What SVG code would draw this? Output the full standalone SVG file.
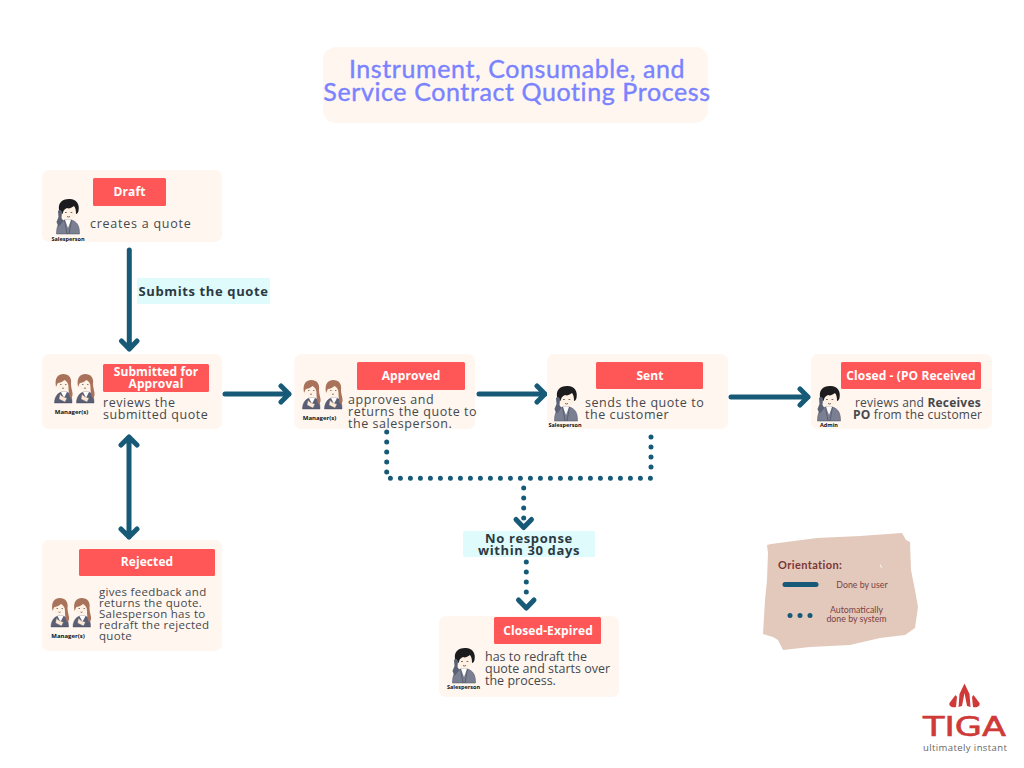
<svg xmlns="http://www.w3.org/2000/svg" xmlns:xlink="http://www.w3.org/1999/xlink" width="1024" height="768" viewBox="0 0 1024 768">
<style>
.card{fill:#fff6f0}
.red{fill:#ff5757}
.st{font:700 12px "Open Sans",sans-serif;fill:#fff;text-anchor:middle;letter-spacing:.1px}
.tx{font:400 12.5px "Open Sans",sans-serif;fill:#45494d;letter-spacing:.75px}
.t55{letter-spacing:.55px}
.t0{letter-spacing:0}
.t2{font-size:12px;letter-spacing:.2px}
.t3{font-size:11.5px;letter-spacing:.3px}
.who{font:700 5.5px "Open Sans",sans-serif;fill:#111;text-anchor:middle}
.lab{fill:#e0fbfc}
.lt{font:700 13px "Open Sans",sans-serif;fill:#2b3a42;text-anchor:middle;letter-spacing:.62px}
.title{font:400 25px "Lato",sans-serif;fill:#7a83ff;stroke:#7a83ff;stroke-width:.4;text-anchor:middle;letter-spacing:.6px}
.ln{fill:none;stroke:#175a78;stroke-width:5;stroke-linecap:round;stroke-linejoin:round}
.dt{fill:none;stroke:#175a78;stroke-width:5;stroke-linecap:round;stroke-dasharray:0 10}
.ori{font:400 8.8px "Lato",sans-serif;fill:#7d3f3f;text-anchor:middle}
</style>
<defs>
<g id="sales">
<path d="M-11.500 35c0-8 2-12 8-14h7c6 2 8 6 8 14z" fill="#7b7f92" stroke="#4d5060" stroke-width=".5"/>
<path d="M-3 21 0 29 3 21z" fill="#fff"/>
<path d="M-3.500 21-1 35M3.500 21 1 35" stroke="#4d5060" stroke-width=".7" fill="none"/>
<ellipse cx="0.500" cy="11" rx="8.500" ry="9.500" fill="#fff1e4"/>
<path d="M-8.500 13C-11 4-6 0 1 0c7-.5 11 5 9.500 12-.5 2-1.500 3-2.500 3 0-4-.5-6-2-8-3 2-5 3-7 2-2 1-3 2-3.500 3-.5 1-.5 2-1 3-.8-.5-2-1-2.500-2z" fill="#1c1c1e"/>
<path d="M-10 12a2.500 3.500 0 0 1 4 1l-.5 6 2 3-5 6-2-5 2-5z" fill="#5c6275"/>
<path d="M-3 13.500h1.800M2.500 13.500h1.800M-1 17.500q1.500 1 3 0" stroke="#333" stroke-width=".7" fill="none"/>
</g>
<g id="mgr">
<path d="M-8.500 29c0-6 3-10 7-11h5c4 1 5.500 5 5.500 11z" fill="#5a5f77" stroke="#3c4052" stroke-width=".4"/>
<path d="M-2 18 1 24 4 18z" fill="#fff"/>
<ellipse cx="0" cy="9" rx="7" ry="8" fill="#fff1e4"/>
<path d="M-7 13C-9 3-4 0 0 0c6 0 9 4 8 10 0 3 1 6 1.500 9 .5 3-1 5-2 5-2-3-2-8-2-11 0-4-2-6-4-7-2 2-5 3-6.500 3-1 1-1 2-2 4z" fill="#a8735a"/>
<path d="M-3 20c2 3 4 3 7 4l-2 4-6-3z" fill="#fde7d5" stroke="#555" stroke-width=".3"/>
<path d="M-3 10.500h1.500M2 10.500h1.500M-1 14q1 .8 2 0" stroke="#333" stroke-width=".6" fill="none"/>
</g>
<g id="mgrs">
<use xlink:href="#mgr" href="#mgr" x="0" y="0"/>
<use xlink:href="#mgr" href="#mgr" x="22" y="0"/>
<text class="who" x="8.500" y="40" style="font-size:6px">Manager(s)</text>
</g>
</defs>

<g id="title">
<rect class="card" x="323" y="47" width="385" height="76" rx="13"/>
<text class="title" x="517" y="78">Instrument, Consumable, and</text>
<text class="title" x="517" y="101">Service Contract Quoting Process</text>
</g>

<g id="connectors">
<path class="ln" d="M129.300 250V349M121.500 341 129.300 349 137 341"/>
<path class="ln" d="M129 437V537M121 445 129 437 137 445M121 529 129 537 137 529"/>
<path class="ln" d="M225 394H289M281 386 289 394 281 402"/>
<path class="ln" d="M479 394H545M537 386 545 394 537 402"/>
<path class="ln" d="M731 397H808M800 389 808 397 800 405"/>
<path class="dt" d="M386.700 432V478.300H651"/>
<path class="dt" d="M651 437V477"/>
<path class="dt" d="M523.700 488V519"/><path class="ln" d="M516 519.500 523.700 527.500 531.500 519.500"/>
<path class="dt" d="M526.300 562V593"/><path class="ln" d="M518.500 600 526.300 608 534 600"/>
</g>

<g id="draft">
<rect class="card" x="42" y="170" width="180" height="72" rx="7"/>
<rect class="red" x="93" y="178" width="73" height="28" rx="1.500"/>
<text class="st" x="129.500" y="196">Draft</text>
<use xlink:href="#sales" href="#sales" x="68" y="199"/>
<text class="who" x="68" y="241">Salesperson</text>
<text class="tx" x="90" y="228">creates a quote</text>
</g>

<g id="submitted">
<rect class="card" x="42" y="354" width="180" height="75" rx="7"/>
<rect class="red" x="103" y="364" width="106" height="28" rx="1.500"/>
<text class="st" x="156" y="376">Submitted for</text>
<text class="st" x="156" y="388">Approval</text>
<use xlink:href="#mgrs" href="#mgrs" x="63" y="374"/>
<text class="tx t55" x="103" y="407">reviews the</text>
<text class="tx t55" x="103" y="419">submitted quote</text>
</g>

<g id="approved">
<rect class="card" x="294.500" y="354" width="180.500" height="75" rx="7"/>
<rect class="red" x="357" y="362" width="108" height="28" rx="1.500"/>
<text class="st" x="411" y="380">Approved</text>
<use xlink:href="#mgrs" href="#mgrs" x="311" y="380"/>
<text class="tx t55" x="348" y="404">approves and</text>
<text class="tx t55" x="348" y="416">returns the quote to</text>
<text class="tx t55" x="348" y="428">the salesperson.</text>
</g>

<g id="sent">
<rect class="card" x="547" y="354" width="181" height="75" rx="7"/>
<rect class="red" x="596" y="362" width="107" height="27" rx="1.500"/>
<text class="st" x="650" y="380">Sent</text>
<use xlink:href="#sales" href="#sales" x="566" y="386"/>
<text class="who" x="565" y="427">Salesperson</text>
<text class="tx t55" x="585" y="407">sends the quote to</text>
<text class="tx t55" x="585" y="419">the customer</text>
</g>

<g id="closed-po">
<rect class="card" x="811" y="354" width="181" height="75" rx="7"/>
<rect class="red" x="841" y="362" width="140" height="27" rx="1.500"/>
<text class="st" x="911" y="380">Closed - (PO Received</text>
<use xlink:href="#sales" href="#sales" x="829" y="386"/>
<text class="who" x="829" y="427">Admin</text>
<text class="tx t2" x="855" y="407">reviews and <tspan font-weight="700">Receives</tspan></text>
<text class="tx t2" x="853" y="419"><tspan font-weight="700">PO</tspan> from the customer</text>
</g>

<g id="rejected">
<rect class="card" x="42" y="540" width="180" height="111" rx="7"/>
<rect class="red" x="79" y="549" width="136" height="27" rx="1.500"/>
<text class="st" x="147" y="566">Rejected</text>
<use xlink:href="#mgrs" href="#mgrs" x="59.500" y="598"/>
<text class="tx t3" x="99" y="596">gives feedback and</text>
<text class="tx t3" x="99" y="607">returns the quote.</text>
<text class="tx t3" x="99" y="618">Salesperson has to</text>
<text class="tx t3" x="99" y="629">redraft the rejected</text>
<text class="tx t3" x="99" y="640">quote</text>
</g>

<g id="closed-expired">
<rect class="card" x="439" y="616" width="180" height="81" rx="7"/>
<rect class="red" x="494" y="617" width="107" height="27" rx="1.500"/>
<text class="st" x="548" y="635">Closed-Expired</text>
<use xlink:href="#sales" href="#sales" x="464" y="648"/>
<text class="who" x="463.500" y="688.500">Salesperson</text>
<text class="tx t0" x="485" y="661">has to redraft the</text>
<text class="tx t0" x="485" y="673">quote and starts over</text>
<text class="tx t0" x="485" y="685">the process.</text>
</g>

<g id="label-submits">
<rect class="lab" x="137" y="278" width="133" height="26" rx="1.500"/>
<text class="lt" x="203.500" y="296">Submits the quote</text>
</g>
<g id="label-noresponse">
<rect class="lab" x="463" y="531" width="132" height="26" rx="1.500"/>
<text class="lt" x="529" y="543">No response</text>
<text class="lt" x="529" y="555">within 30 days</text>
</g>

<g id="legend">
<path d="M767 545 771 544 817 538 860 536 902 533 906 540 910 542 911 570 915 590 918 607 915 628 905 635 880 638 850 645 810 647 783 650 778 640 773 637 763 634 765 600 767 580 768 553z" fill="#e3c9bc"/>
<path d="M880 564 882.500 568 880.500 567z" fill="#fff"/>
<text x="778" y="569" style="font:700 11px Lato,sans-serif;fill:#7a3535;letter-spacing:.4px">Orientation:</text>
<path d="M785 584.500H816" stroke="#175a78" stroke-width="5" stroke-linecap="round"/>
<circle cx="790" cy="615.500" r="2.500" fill="#175a78"/><circle cx="800" cy="615.500" r="2.500" fill="#175a78"/><circle cx="810" cy="615.500" r="2.500" fill="#175a78"/>
<text class="ori" x="862" y="588">Done by user</text>
<text class="ori" x="856.500" y="613">Automatically</text>
<text class="ori" x="856.500" y="622">done by system</text>
</g>

<g id="logo">
<path d="M964.500 683.500 959.500 694 958.500 707 962 706 964.500 693 967 706 970.500 707 969.500 694z" fill="#cf3a38"/>
<path d="M955.500 695 949.500 703C948.500 706 952 708 956 707L957 697zM973.500 695 979.500 703C980.500 706 977 708 973 707L972 697z" fill="#cf3a38"/>
<text x="923" y="736" textLength="83" lengthAdjust="spacingAndGlyphs" style="font:400 26px 'DejaVu Sans',sans-serif;fill:#cf3a38;stroke:#cf3a38;stroke-width:.6">TIGA</text>
<text x="923" y="751" style="font:400 9.500px 'Open Sans',sans-serif;fill:#666;letter-spacing:.4px">ultimately instant</text>
</g>
</svg>
